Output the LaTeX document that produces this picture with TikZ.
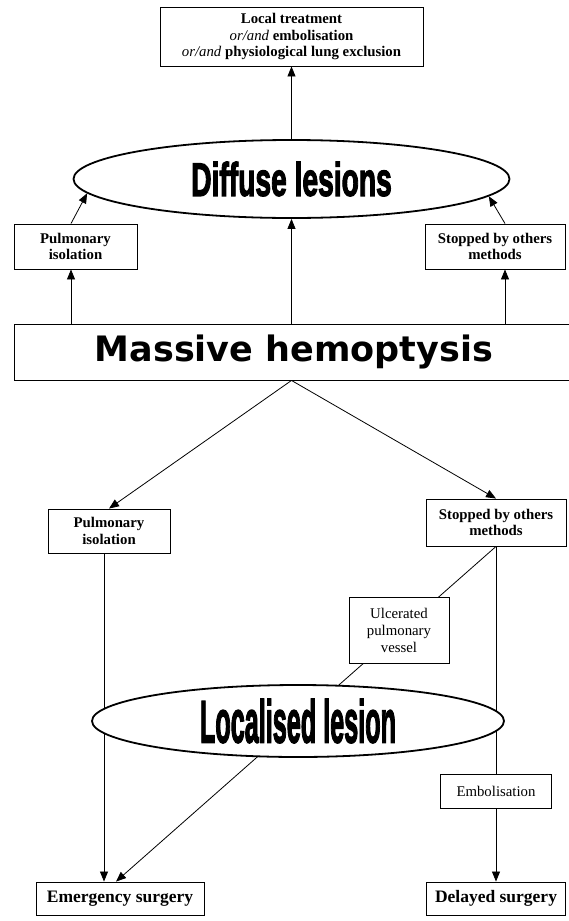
\documentclass[tikz,border=0pt]{standalone}
\usepackage{fontspec}
\usepackage{graphicx}
\setmainfont{Liberation Serif}
\newfontfamily\verdanafont{DejaVu Sans}
\newfontfamily\impactfont[FakeBold=3]{Liberation Sans}
\usetikzlibrary{positioning}
\usetikzlibrary{arrows.meta}
\usetikzlibrary{shapes.geometric}
\usetikzlibrary{backgrounds}
\tikzset{tips=proper}
\tikzset{%
    box/.style={rectangle, draw, line width=0.9pt, fill=white, inner sep=0pt, align=center, font=\fontsize{14.8}{16.5}\selectfont\bfseries},
    lesion/.style={ellipse, draw, line width=1.8pt, fill=white, inner sep=0pt},
    arrow/.style={draw, line width=0.8pt, -{Triangle[length=10pt,width=8pt]}},
    link/.style={draw, line width=0.8pt}
}

\begin{document}
\begin{tikzpicture}[x=1pt,y=-1pt]
    \useasboundingbox (0,0) rectangle (568,921);
    % upper part
    \node[box, minimum width=263pt, minimum height=59pt] (treat) at (291.5,36.5)
        {Local treatment\\ \textit{\mdseries or/and} embolisation\\ \textit{\mdseries or/and} physiological lung exclusion};
    \node[lesion, minimum width=436pt, minimum height=78pt] (diffuse) at (291.5,179)
        {\scalebox{0.6}[1]{\impactfont\bfseries\fontsize{47}{47}\selectfont Diffuse lesions}};
    \node[box, minimum width=123pt, minimum height=45pt] (isol1) at (75.5,246.5) {Pulmonary\\ isolation};
    \node[box, minimum width=140pt, minimum height=45pt] (stop1) at (495,246.5) {Stopped by others\\ methods};
    \node[box, minimum width=560pt, minimum height=56pt, font=\verdanafont\bfseries\fontsize{35}{40}\selectfont] (massive) at (294,352) {Massive hemoptysis};
    % lower part
    \node[box, minimum width=122pt, minimum height=44pt] (isol2) at (109,531) {Pulmonary\\ isolation};
    \node[box, minimum width=140pt, minimum height=47pt] (stop2) at (496,522.5) {Stopped by others\\ methods};
    \node[box, font=\fontsize{14.8}{17}\selectfont, minimum width=100pt, minimum height=66pt] (vessel) at (399,630) {Ulcerated\\ pulmonary\\ vessel};
    \node[lesion, minimum width=412pt, minimum height=72pt] (localised) at (298,721)
        {\scalebox{0.42}[1]{\impactfont\bfseries\fontsize{60}{60}\selectfont Localised lesion}};
    \node[box, font=\fontsize{14.8}{17}\selectfont, minimum width=111pt, minimum height=34pt] (embol) at (496,791) {Embolisation};
    \node[box, font=\fontsize{17.5}{20}\selectfont\bfseries, minimum width=168pt, minimum height=33pt] (emergency) at (120,898.5) {Emergency surgery};
    \node[box, font=\fontsize{17.5}{20}\selectfont\bfseries, minimum width=139pt, minimum height=33pt] (delayed) at (496,898.5) {Delayed surgery};
    \begin{scope}[on background layer]
        \draw[arrow] (diffuse.north) -- (treat.south);
        \draw[arrow] (diffuse.south |- massive.north) -- (diffuse.south);
        \draw[arrow] ([xshift=-4.5pt]isol1.north) -- (diffuse.184);
        \draw[arrow] ([xshift=10pt]stop1.north) -- (diffuse.355);
        \draw[arrow] ([xshift=-4.5pt]isol1.south |- massive.north) -- ([xshift=-4.5pt]isol1.south);
        \draw[arrow] ([xshift=10pt]stop1.south |- massive.north) -- ([xshift=10pt]stop1.south);
        \draw[arrow] (massive.south -| diffuse.south) -- (isol2.north);
        \draw[arrow] (massive.south -| diffuse.south) -- (stop2.north);
        \draw[arrow] ([xshift=-5pt]isol2.south) -- ([xshift=-5pt]isol2.south |- emergency.north);
        \draw[arrow] (stop2.south) -- ([xshift=-4pt]emergency.north);
        \draw[link] (stop2.south) -- (embol.north);
        \draw[arrow] (embol.south) -- (delayed.north);
    \end{scope}
\end{tikzpicture}
\end{document}
